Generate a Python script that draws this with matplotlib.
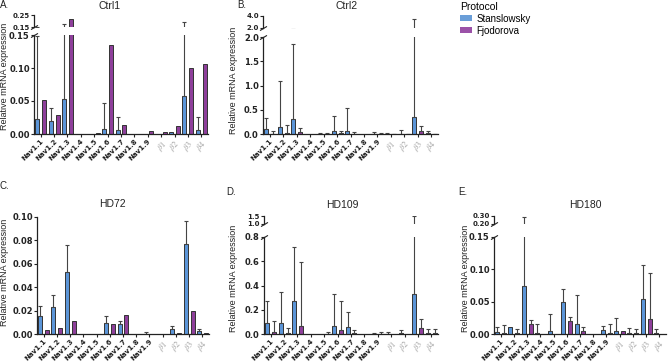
import numpy as np
import matplotlib
matplotlib.use("Agg")
import matplotlib.pyplot as plt
from matplotlib.patches import Patch

plt.rcParams['font.family'] = ['Liberation Sans', 'DejaVu Sans']
plt.rcParams['mathtext.fontset'] = 'stix'

W, H = 668, 364
BLUE = '#5b95d8'
PURPLE = '#8e3f9b'
EDGE = '#333333'
TICKFONT = 'DejaVu Sans'

categories = ['Nav1.1', 'Nav1.2', 'Nav1.3', 'Nav1.4', 'Nav1.5', 'Nav1.6', 'Nav1.7',
              'Nav1.8', 'Nav1.9', r'$\beta1$', r'$\beta2$', r'$\beta3$', r'$\beta4$']
protocols = ['Stanslowsky', 'Fjodorova']

# mean and top of the (upper) error bar, per protocol
ctrl1_stan = [0.023, 0.020, 0.053, 0, 0, 0.008, 0.006, 0, 0, 0, 0.003, 0.057, 0.006]
ctrl1_stan_top = [0.149, 0.040, 0.175, 0, 0, 0.047, 0.026, 0, 0, 0, 0.003, 0.19, 0.026]
ctrl1_fjod = [0.052, 0.029, 0.217, 0, 0.002, 0.135, 0.013, 0, 0.004, 0.003, 0.012, 0.100, 0.106]
ctrl1_fjod_top = ctrl1_fjod

ctrl2_stan = [0.10, 0.15, 0.31, 0, 0.005, 0.07, 0.07, 0, 0.005, 0.005, 0.01, 0.35, 0.02]
ctrl2_stan_top = [0.32, 1.10, 1.85, 0, 0.03, 0.37, 0.53, 0, 0.04, 0.03, 0.08, 3.5, 0.06]
ctrl2_fjod = [0.01, 0.03, 0.04, 0, 0.003, 0.03, 0.005, 0, 0.003, 0.003, 0.003, 0.06, 0.005]
ctrl2_fjod_top = [0.06, 0.18, 0.12, 0, 0.02, 0.07, 0.04, 0, 0.015, 0.01, 0.01, 0.16, 0.01]

hd72_stan = [0.015, 0.023, 0.053, 0, 0.0003, 0.0095, 0.0085, 0, 0.0002, 0.0003, 0.0045, 0.077, 0.0025]
hd72_stan_top = [0.024, 0.033, 0.076, 0, 0.0003, 0.015, 0.0115, 0, 0.0015, 0.0003, 0.007, 0.097, 0.0045]
hd72_fjod = [0.0035, 0.0055, 0.011, 0, 0.0003, 0.0085, 0.0165, 0, 0.0003, 0.0003, 0.001, 0.020, 0.0012]
hd72_fjod_top = hd72_fjod

hd109_stan = [0.09, 0.09, 0.275, 0, 0, 0.07, 0.06, 0, 0.003, 0.003, 0.005, 0.33, 0.01]
hd109_stan_top = [0.27, 0.35, 0.72, 0, 0, 0.33, 0.18, 0, 0.01, 0.015, 0.035, 1.5, 0.04]
hd109_fjod = [0.015, 0.005, 0.07, 0, 0.003, 0.035, 0.005, 0, 0.003, 0, 0, 0.05, 0.005]
hd109_fjod_top = [0.11, 0.05, 0.59, 0, 0.015, 0.27, 0.03, 0, 0.015, 0, 0, 0.12, 0.04]

hd180_stan = [0.003, 0.011, 0.075, 0.001, 0.004, 0.049, 0.016, 0, 0.006, 0.005, 0.001, 0.054, 0.001]
hd180_stan_top = [0.011, 0.011, 0.28, 0.015, 0.031, 0.069, 0.061, 0, 0.013, 0.025, 0.009, 0.106, 0.008]
hd180_fjod = [0.001, 0.001, 0.015, 0.0005, 0, 0.020, 0.004, 0, 0.002, 0.004, 0.001, 0.023, 0]
hd180_fjod_top = [0.014, 0.007, 0.022, 0.0005, 0, 0.027, 0.011, 0, 0.016, 0.004, 0.008, 0.094, 0]


def px_axes(fig, l, t, r, b):
    return fig.add_axes([l / W, 1 - b / H, (r - l) / W, (b - t) / H])


def draw_bars(ax, stan, stan_top, fjod, fjod_top):
    x = np.arange(len(categories))
    for off, vals, tops, col in ((-0.26, stan, stan_top, BLUE), (0.26, fjod, fjod_top, PURPLE)):
        vals = np.array(vals, dtype=float)
        err = np.array(tops, dtype=float) - vals
        ax.bar(x + off, vals, width=0.3, color=col, edgecolor=EDGE, linewidth=0.7)
        m = err > 0
        ax.errorbar(x[m] + off, vals[m], yerr=[np.zeros(m.sum()), err[m]], fmt='none',
                    ecolor='#444444', elinewidth=0.8, capsize=1.2, capthick=0.8)


def style(ax, ylim, yticks, fmt, xaxis=True):
    ax.set_xlim(-0.5, 12.5)
    ax.set_ylim(*ylim)
    ax.set_yticks(yticks)
    ax.set_yticklabels([fmt.format(v) for v in yticks], fontsize=6 if xaxis else 5,
                       fontweight='bold', family=TICKFONT, color='#222222')
    ax.spines[['top', 'right']].set_visible(False)
    for s in ax.spines.values():
        s.set_linewidth(0.9)
        s.set_color('#222222')
    ax.tick_params(length=2, width=0.8, pad=1, color='#222222')
    if xaxis:
        ax.set_xticks(np.arange(len(categories)))
        ax.set_xticklabels(categories, rotation=45, ha='right', rotation_mode='anchor',
                           fontsize=5, fontweight='bold', family=TICKFONT, color='#222222')
        for lab in ax.get_xticklabels()[9:]:
            lab.set_color('#a0a0a0')
            lab.set_fontweight('normal')
            lab.set_fontsize(6)
    else:
        ax.spines['bottom'].set_visible(False)
        ax.set_xticks([])


def break_marks(low, high):
    kw = dict(marker=[(-1, -0.6), (1, 0.6)], markersize=5, linestyle='none',
              color='k', mec='#222222', mew=0.8, clip_on=False)
    low.plot([0], [1], transform=low.transAxes, **kw)
    high.plot([0], [0], transform=high.transAxes, **kw)


def panel(fig, l, r, low_tb, high_tb, data, low_lim, low_ticks, high_lim, high_ticks, fmt):
    low = px_axes(fig, l, low_tb[0], r, low_tb[1])
    draw_bars(low, *data)
    style(low, low_lim, low_ticks, fmt)
    if high_tb is not None:
        high = px_axes(fig, l, high_tb[0], r, high_tb[1])
        draw_bars(high, *data)
        style(high, high_lim, high_ticks, fmt, xaxis=False)
        break_marks(low, high)


fig = plt.figure(figsize=(W / 100, H / 100), dpi=100)

panel(fig, 34, 208, (35, 134), (15, 27),
      (ctrl1_stan, ctrl1_stan_top, ctrl1_fjod, ctrl1_fjod_top),
      (0, 0.15), [0, 0.05, 0.10, 0.15], (0.15, 0.25), [0.15, 0.25], '{:.2f}')
panel(fig, 263, 438, (37, 134), (16, 28),
      (ctrl2_stan, ctrl2_stan_top, ctrl2_fjod, ctrl2_fjod_top),
      (0, 2.0), [0, 0.5, 1.0, 1.5, 2.0], (2.0, 4.0), [2.0, 4.0], '{:.1f}')
panel(fig, 37, 209, (217, 334), None,
      (hd72_stan, hd72_stan_top, hd72_fjod, hd72_fjod_top),
      (0, 0.10), [0, 0.02, 0.04, 0.06, 0.08, 0.10], None, None, '{:.2f}')
panel(fig, 264, 438, (237, 334), (216, 224),
      (hd109_stan, hd109_stan_top, hd109_fjod, hd109_fjod_top),
      (0, 0.8), [0, 0.2, 0.4, 0.6, 0.8], (1.0, 1.5), [1.0, 1.5], '{:.1f}')
panel(fig, 494, 666, (237, 334), (215.5, 223.5),
      (hd180_stan, hd180_stan_top, hd180_fjod, hd180_fjod_top),
      (0, 0.15), [0, 0.05, 0.10, 0.15], (0.20, 0.30), [0.20, 0.30], '{:.2f}')

# titles, letters, y labels
for txt, x, y in (('Ctrl1', 110, 6), ('Ctrl2', 347, 6), ('HD72', 112, 204),
                  ('HD109', 342, 205), ('HD180', 585, 205)):
    fig.text(x / W, 1 - y / H, txt, fontsize=7.5, ha='center', va='center', color='#222222')
for txt, x, y in (('A.', 0, 5), ('B.', 237, 5), ('C.', 0, 186), ('D.', 226, 192), ('E.', 458, 192)):
    fig.text(x / W, 1 - y / H, txt, fontsize=7, ha='left', va='center', color='#222222')
for x, y in ((5, 76), (234, 80), (5, 272), (234, 278), (465, 278)):
    fig.text(x / W, 1 - y / H, 'Relative mRNA expression', fontsize=6.5, rotation=90,
             ha='center', va='center', color='#222222')

handles = [Patch(facecolor='#6a9ed8'), Patch(facecolor='#9b52a8')]
fig.legend(handles, protocols, title='Protocol', loc='upper left',
           bbox_to_anchor=(456 / W, 1 + 2 / H), frameon=False, fontsize=7, title_fontsize=7.5,
           handlelength=1.2, handleheight=0.6, handletextpad=0.5, labelspacing=0.2,
           alignment='left', borderaxespad=0)

fig.savefig('out.png', dpi=100)
